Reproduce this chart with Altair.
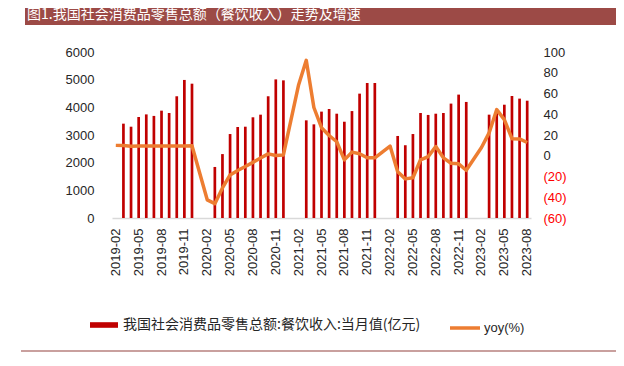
import altair as alt
import pandas as pd

months = [f"{y}-{m:02d}" for y in range(2019, 2024) for m in range(1, 13)]
months = [m for m in months if "2019-02" <= m <= "2023-08"]

sales = [
    None, 3410, 3300, 3650, 3745, 3690, 3880, 3795, 4400, 4990, 4855,
    None, None, 1845, 2310, 3035, 3290, 3300, 3640, 3735, 4400, 5010, 4975,
    None, None, 3530, 3385, 3845, 3940, 3770, 3480, 3865, 4495, 4880, 4880,
    None, None, 2965, 2630, 3035, 3795, 3725, 3770, 3795, 4135, 4460, 4195,
    None, None, 3735, 3915, 4095, 4410, 4315, 4240,
]
yoy = [
    10.0, 9.8, 9.2, 9.3, 9.4, 9.4, 9.4, 9.4, 9.4, 9.5, 9.6,
    None, -42.5, -46.2, -31.0, -18.5, -14.2, -10.3, -6.4, -2.2, 1.8, 0.3, 0.8,
    None, 68.5, 92.0, 46.5, 27.0, 19.5, 13.5, -4.0, 3.5, 2.0, -2.0, -2.0,
    None, 9.3, -15.5, -22.3, -21.2, -3.9, -0.8, 8.9, -2.0, -7.2, -7.8, -14.0,
    None, 8.0, 22.0, 44.5, 34.8, 16.5, 16.2, 12.8,
]

title_text = "图1.我国社会消费品零售总额（餐饮收入）走势及增速"
bar_name = "我国社会消费品零售总额:餐饮收入:当月值(亿元)"
line_name = "yoy(%)"
left_ticks = [0, 1000, 2000, 3000, 4000, 5000, 6000]
right_ticks = [-60, -40, -20, 0, 20, 40, 60, 80, 100]
x_ticks = months[::3]

FONT = "Liberation Sans"
CJK = "Noto Sans CJK SC"

df = pd.DataFrame({"month": months, "sales": sales, "yoy": yoy})

xenc = alt.X(
    "month:O",
    scale=alt.Scale(domain=months, paddingInner=0, paddingOuter=0),
    axis=alt.Axis(
        title=None, values=x_ticks, labelAngle=270, ticks=False,
        domainColor="#D9D9D9", domainWidth=1.5, labelPadding=10,
        labelFont=FONT, labelFontSize=13, labelColor="#262626",
    ),
)

bars = alt.Chart(df).transform_filter("isValid(datum.sales)").transform_calculate(
    s1=f"'{bar_name}'"
).mark_bar(size=2.7).encode(
    x=xenc,
    y=alt.Y(
        "sales:Q",
        scale=alt.Scale(domain=[0, 6000], nice=False),
        axis=alt.Axis(
            title=None, values=left_ticks, orient="left", grid=False, ticks=False,
            domain=False, labelPadding=18, labelFont=FONT, labelFontSize=13,
            labelColor="#262626", format="d",
        ),
    ),
    fill=alt.Fill(
        "s1:N",
        scale=alt.Scale(domain=[bar_name], range=["#C00000"]),
        legend=alt.Legend(
            title=None, orient="none", legendX=-22, legendY=259, padding=0,
            symbolType="M-1,-0.2H1V0.2H-1Z", symbolSize=784, symbolStrokeWidth=0,
            labelFont=CJK, labelFontSize=14, labelColor="#262626", labelOffset=5,
            labelLimit=0,
        ),
    ),
)

line = alt.Chart(df).transform_filter("isValid(datum.yoy)").transform_calculate(
    s2=f"'{line_name}'"
).mark_line(strokeWidth=3.5, strokeJoin="round").encode(
    x=xenc,
    y=alt.Y(
        "yoy:Q",
        scale=alt.Scale(domain=[-60, 100], nice=False),
        axis=alt.Axis(
            title=None, values=right_ticks, orient="right", grid=False, ticks=False,
            domain=False, labelPadding=12, labelFont=FONT, labelFontSize=13,
            labelExpr="datum.value < 0 ? '(' + abs(datum.value) + ')' : datum.label",
            labelColor={"condition": {"test": "datum.value < 0", "value": "#FF0000"}, "value": "#262626"},
        ),
    ),
    stroke=alt.Stroke(
        "s2:N",
        scale=alt.Scale(domain=[line_name], range=["#ED7D31"]),
        legend=alt.Legend(
            title=None, orient="none", legendX=336, legendY=259, padding=0,
            symbolType="stroke", symbolSize=900, symbolStrokeWidth=3.5,
            labelFont=FONT, labelFontSize=13, labelColor="#262626", labelOffset=2,
            labelLimit=0,
        ),
    ),
)

one = pd.DataFrame({"a": [0]})
title_bg = alt.Chart(one).mark_rect(color="#9C4A46").encode(
    x=alt.value(-87), x2=alt.value(508), y=alt.value(-49), y2=alt.value(-27)
)
title = alt.Chart(one).mark_text(
    align="left", baseline="middle", font=CJK, fontSize=14, color="#FFFFFF"
).encode(x=alt.value(-85), y=alt.value(-37), text=alt.value(title_text))
bottom_rule = alt.Chart(one).mark_rule(color="#C9A09E", strokeWidth=2).encode(
    x=alt.value(-91), x2=alt.value(508), y=alt.value(299)
)

chart = alt.layer(title_bg, title, bars, line, bottom_rule).resolve_scale(
    y="independent"
).properties(
    width=419, height=166,
    autosize=alt.AutoSizeParams(type="none"),
    padding={"left": 104, "top": 44, "right": 85, "bottom": 140},
).configure_view(stroke=None)

chart.save("out.html", embed_options={"renderer": "svg", "actions": False})
